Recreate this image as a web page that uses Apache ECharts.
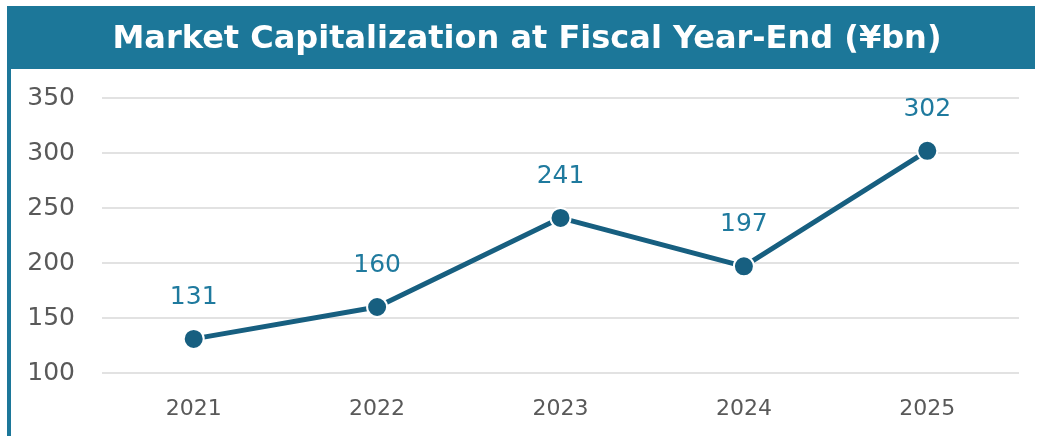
<!DOCTYPE html>
<html>
<head>
<meta charset="utf-8">
<script src="https://cdn.jsdelivr.net/npm/echarts@6/dist/echarts.min.js"></script>
<style>
  html, body { margin: 0; padding: 0; background: #fff; }
  #chart { width: 1038px; height: 436px; }
</style>
</head>
<body>
<div id="chart"></div>
<script>
const years = ['2021', '2022', '2023', '2024', '2025']
const marketCap = [131, 160, 241, 197, 302]
const yTicks = { min: 100, max: 350, interval: 50 }

const teal = '#1c7799'
const lineColor = '#175f80'

const chart = echarts.init(document.getElementById('chart'))

chart.setOption({
  animation: false,
  graphic: [
    { // title bar
      type: 'rect',
      shape: { x: 7, y: 6, width: 1028, height: 63 },
      style: { fill: teal },
      z: 0
    },
    { // left border
      type: 'rect',
      shape: { x: 7, y: 6, width: 4, height: 430 },
      style: { fill: teal },
      z: 0
    },
    {
      type: 'text',
      x: 527,
      y: 40,
      style: {
        text: 'Market Capitalization at Fiscal Year-End (¥bn)',
        fill: '#fff',
        align: 'center',
        verticalAlign: 'middle',
        font: 'bold 32px "DejaVu Sans", Verdana, sans-serif'
      },
      z: 1
    }
  ],
  grid: {
    left: 102,
    right: 19,
    top: 98,
    height: 275
  },
  xAxis: {
    type: 'category',
    data: years,
    boundaryGap: true,
    axisLine: { show: false },
    axisTick: { show: false },
    axisLabel: {
      color: '#595959',
      fontSize: 22,
      fontFamily: '"DejaVu Sans", Verdana, sans-serif',
      margin: 25
    }
  },
  yAxis: {
    type: 'value',
    min: yTicks.min,
    max: yTicks.max,
    interval: yTicks.interval,
    axisLine: { show: false },
    axisTick: { show: false },
    axisLabel: {
      color: '#595959',
      fontSize: 25,
      fontFamily: '"DejaVu Sans", Verdana, sans-serif',
      margin: 27
    },
    splitLine: { lineStyle: { color: '#d9d9d9', width: 1.5 } }
  },
  series: [{
    type: 'line',
    data: marketCap,
    symbol: 'circle',
    symbolSize: 20,
    lineStyle: { color: lineColor, width: 5 },
    itemStyle: { color: lineColor, borderColor: '#fff', borderWidth: 2 },
    label: {
      show: true,
      position: 'top',
      distance: 18,
      color: '#1f7a9e',
      fontSize: 25,
      fontFamily: '"DejaVu Sans", Verdana, sans-serif'
    }
  }]
})
</script>
</body>
</html>
